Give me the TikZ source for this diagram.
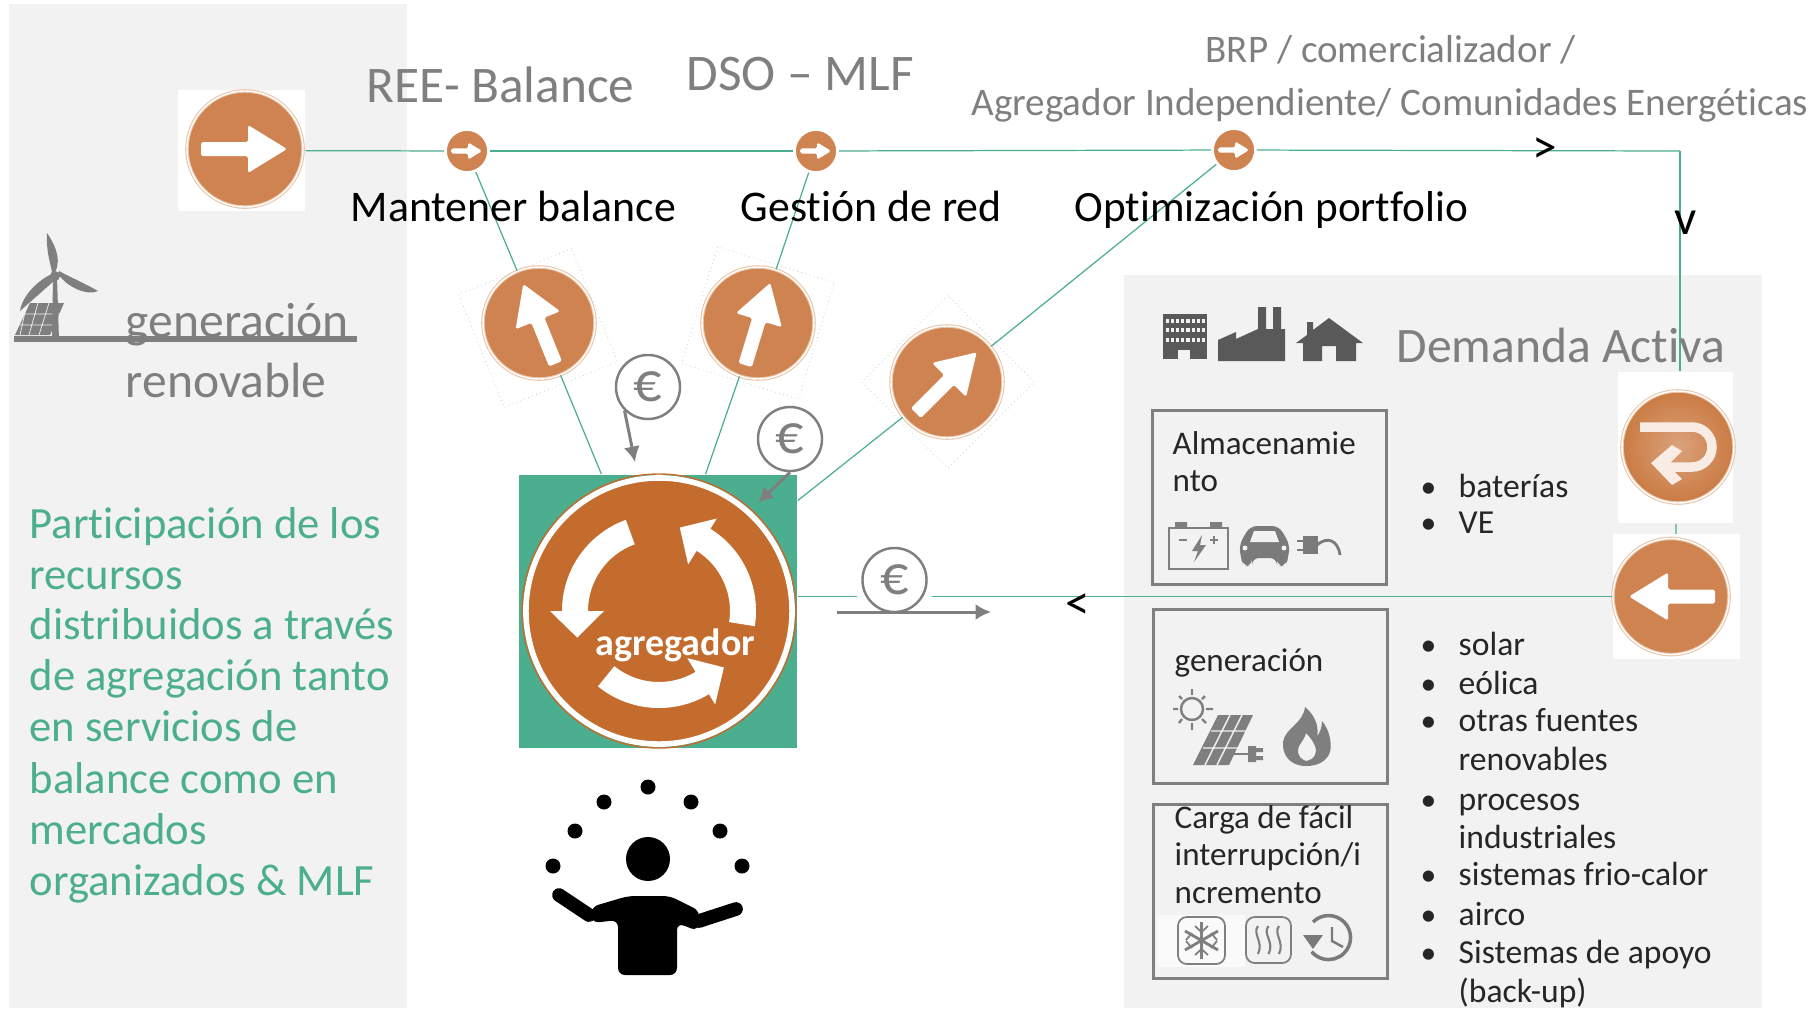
\documentclass[tikz,border=0pt]{standalone}
\usepackage{fontspec}
\setmainfont{Carlito}[Ligatures=NoCommon]
\usetikzlibrary{arrows.meta}
\definecolor{panelgrey}{HTML}{F2F2F2}
\definecolor{txtgrey}{HTML}{7F7F7F}
\definecolor{icongrey}{HTML}{595959}
\definecolor{linegreen}{HTML}{4BAE8F}
\definecolor{discorange}{HTML}{CF8350}
\definecolor{discrim}{HTML}{E9C4A8}
\definecolor{darkorange}{HTML}{C46C2E}
\definecolor{softblack}{HTML}{262626}
\newcommand{\fsz}[1]{\fontsize{#1}{#1}\selectfont}
\newcommand{\bul}{\makebox[.38cm][l]{\small•}}
\newcommand{\ringarrow}[2]{\fill[white] (#1:97) arc[start angle=#1,end angle=#2,radius=97] -- (#2:109) -- ({#2-18}:86) -- (#2:55) -- (#2:71) arc[start angle=#2,end angle=#1,radius=71] -- cycle;}
\tikzset{
	lbl/.style={anchor=base west,inner sep=0pt},
	graytitle/.style={lbl,text=txtgrey,font=\fsz{14.6}},
	graysub/.style={lbl,text=txtgrey,font=\fsz{14.1}},
	blacktitle/.style={lbl,text=black,font=\fsz{12.45}},
	greentext/.style={lbl,text=linegreen,font=\fsz{12.7}},
	boxtext/.style={lbl,text=softblack,font=\fsz{9.4}},
	listtext/.style={lbl,text=softblack,font=\fsz{9.55}},
	chevron/.style={inner sep=0pt,font=\fsz{14}},
	connector/.style={draw=linegreen,line width=.35pt},
	moneyarrow/.style={draw=txtgrey,line width=.85pt,-{Latex[length=4.4pt,width=4.6pt]}},
	eurocoin/.style={circle,draw=txtgrey,line width=.7pt,fill=white,minimum size=.64cm,inner sep=0pt,text=txtgrey,font=\fsz{16}},
	demandbox/.style={rectangle,draw=txtgrey,line width=.85pt,minimum width=2.33cm,minimum height=1.73cm,inner sep=0pt},
	whitepatch/.style={rectangle,fill=white,inner sep=0pt},
	tiltpatch/.style={whitepatch,draw=linegreen!50,densely dotted,line width=.2pt,minimum size=1.22cm},
	disc/.style={circle,fill=discorange,draw=discrim,double=white,double distance=.4pt,line width=.3pt,inner sep=0pt,minimum size=1.12cm},
	smalldisc/.style={circle,fill=discorange,draw=white,line width=.5pt,inner sep=0pt,minimum size=.42cm,outer sep=.5pt},
	arrowmark/.pic={\fill[white,rounded corners=.5] (-44,-7) -- (3,-7) -- (3,-24) -- (42,0) -- (3,24) -- (3,7) -- (-44,7) -- cycle;}
}
\begin{document}
\begin{tikzpicture}[x=.01cm,y=-.01cm]
	\useasboundingbox (0,0) rectangle (1817,1008);
	\fill[panelgrey] (9,4) rectangle (407,1008);
	\fill[panelgrey] (1124,275) rectangle (1762,1008);
	% wind turbine and panel
	\fill[txtgrey] (15,335) -- (30,303) -- (64,303) -- (50,335) -- cycle;
	\draw[panelgrey,line width=.2pt] (20,325) -- (55,325) (23,314) -- (60,314) (27,303) -- (20,335) (38,303) -- (29,335) (49,303) -- (39,335);
	\fill[txtgrey] (52,339) -- (53,277) -- (57,277) -- (59,339) -- cycle;
	\fill[txtgrey] (55,272) .. controls (63,258) and (52,240) .. (47,233) .. controls (46,250) and (50,262) .. (52,272) -- cycle;
	\fill[txtgrey] (58,274) .. controls (68,288) and (88,296) .. (98,291) .. controls (88,285) and (72,278) .. (59,271) -- cycle;
	\fill[txtgrey] (52,274) .. controls (38,280) and (22,296) .. (20,311) .. controls (30,302) and (44,290) .. (56,279) -- cycle;
	\fill[txtgrey] (55,276) circle (5);
	\draw[txtgrey,line width=1.7pt] (14,339) -- (357,339);
	% discs
	\node[whitepatch,minimum width=1.27cm,minimum height=1.21cm] (startbox) at (241.5,150.5) {};
	\node[disc,minimum size=1.16cm] (startdisc) at (245,149) {};
	\pic at (startdisc) {arrowmark};
	\node[smalldisc] (reedisc) at (467,151) {};
	\pic[scale=.36] at (reedisc) {arrowmark};
	\node[smalldisc] (dsodisc) at (816,151) {};
	\pic[scale=.36] at (dsodisc) {arrowmark};
	\node[smalldisc] (brpdisc) at (1234,150) {};
	\pic[scale=.36] at (brpdisc) {arrowmark};
	\node[tiltpatch,rotate=22] (reepatch) at (538,328) {};
	\node[disc] (reeup) at (539,323) {};
	\pic[rotate=112] at (reeup) {arrowmark};
	\node[tiltpatch,rotate=-17] (dsopatch) at (758,323) {};
	\node[disc] (dsoup) at (758,323) {};
	\pic[rotate=73] at (dsoup) {arrowmark};
	\node[tiltpatch,rotate=45] (brppatch) at (948,382) {};
	\node[disc] (brpup) at (947,382) {};
	\pic[rotate=45] at (brpup) {arrowmark};
	% agregador
	\node[rectangle,fill=linegreen,minimum width=2.78cm,minimum height=2.73cm,inner sep=0pt] (agg) at (658,611.5) {};
	\node[circle,fill=darkorange,draw=white,line width=1.6pt,minimum size=2.66cm,inner sep=0pt] (aggdisc) at (659,611) {};
	\draw[darkorange,line width=.4pt] (aggdisc) circle (137);
	\begin{scope}[shift={(659,611)}]
		\ringarrow{-110}{-180}
		\ringarrow{-231}{-301}
		\ringarrow{9}{-58}
	\end{scope}
	\node[lbl,text=white,font=\bfseries\fsz{10.8}] (agglabel) at (595,655) {agregador};
	% right hand discs
	\node[whitepatch,minimum width=1.15cm,minimum height=1.51cm] (uturnbox) at (1675.5,447.5) {};
	\node[disc,inner color=discorange!75!white,outer color=darkorange!90!white,minimum size=1.12cm] (uturn) at (1678,447) {};
	\draw[white!85!discorange,line width=2.7pt] (1640,427) -- (1692,427) arc[start angle=-90,end angle=90,radius=20] -- (1668,467);
	\fill[white!85!discorange] (1651,463) -- (1672,445) -- (1682,451) -- (1668,465) -- (1682,479) -- (1672,485) -- cycle;
	\node[whitepatch,minimum width=1.27cm,minimum height=1.24cm] (backbox) at (1676.5,596.5) {};
	\node[disc,minimum size=1.16cm] (backdisc) at (1671,596.5) {};
	\pic[rotate=180] at (backdisc) {arrowmark};
	\node[whitepatch,minimum width=.73cm,minimum height=.66cm] (eurogap) at (894.5,580) {};
	% connectors
	\coordinate (corner) at (1680,151);
	\draw[connector] (startbox) -- (reedisc);
	\draw[connector] (reedisc) -- (dsodisc);
	\draw[connector] (dsodisc) -- (brpdisc);
	\draw[connector] (brpdisc) -- (corner);
	\draw[connector] (corner) -- (corner |- uturnbox.north);
	\draw[connector] (uturnbox) -- (backbox);
	\draw[connector] (reedisc) -- (reeup);
	\draw[connector] (dsodisc) -- (dsoup);
	\draw[connector] (brpdisc) -- (brpup);
	\draw[connector] (reeup) -- (agg);
	\draw[connector] (dsoup) -- (agg);
	\draw[connector] (brpup) -- (agg);
	\draw[connector] (backbox.west) -- (backbox.west -| eurogap.east);
	\draw[connector] (backbox.west -| eurogap.west) -- (backbox.west -| agg.east);
	\node[chevron] (chevA) at (1545,151) {>};
	\node[chevron] (chevB) at (1686,223) {v};
	\node[chevron] (chevC) at (1078,607) {<};
	% money
	\node[eurocoin] (euroA) at (648,387) {€};
	\node[eurocoin] (euroB) at (790,439) {€};
	\node[eurocoin] (euroC) at (894.5,580) {€};
	\coordinate (moneyA) at (635,462);
	\coordinate (moneyB) at (758,503);
	\coordinate (moneyC) at (837,612);
	\coordinate (moneyD) at (991,612);
	\draw[moneyarrow] (euroA.south west) -- (moneyA);
	\draw[moneyarrow] (euroB.south) -- (moneyB);
	\draw[moneyarrow] (moneyC) -- (moneyD);
	% juggler
	\fill (648,859) circle (22);
	\fill (648,787) circle (7.5) (604,802) circle (7.5) (691,802) circle (7.5) (575,831) circle (7.5) (720,831) circle (7.5) (553,866) circle (7.5) (742,866) circle (7.5);
	\fill[rounded corners=2] (618,975) -- (618,920) -- (592,923) -- (591,907) -- (628,896) -- (670,896) -- (700,911) -- (698,931) -- (677,923) -- (677,975) -- cycle;
	\draw[line width=3.9pt,line cap=round,line join=round] (559,895) -- (589,915);
	\draw[line width=3.9pt,line cap=round,line join=round] (736,909) -- (699,921);
	% titles
	\node[graytitle] (ree) at (366,102) {REE- Balance};
	\node[graytitle] (dso) at (686,90) {DSO – MLF};
	\node[lbl,text=txtgrey,font=\fsz{11.1}] (brpA) at (1205,62) {BRP / comercializador /};
	\node[lbl,text=txtgrey,font=\fsz{11.1}] (brpB) at (971,115) {Agregador Independiente/ Comunidades Energéticas};
	\node[blacktitle] (mantener) at (350,221.5) {Mantener balance};
	\node[blacktitle] (gestion) at (740,221.5) {Gestión de red};
	\node[blacktitle,font=\fsz{12.3}] (portfolio) at (1074,221.5) {Optimización portfolio};
	\node[graysub] (genA) at (125,337) {generación};
	\node[graysub] (genB) at (125,397) {renovable};
	% left text
	\node[greentext] (partA) at (29,538) {Participación de los};
	\node[greentext] (partB) at (29,589) {recursos};
	\node[greentext] (partC) at (29,639) {distribuidos a través};
	\node[greentext] (partD) at (29,690) {de agregación tanto};
	\node[greentext] (partE) at (29,741) {en servicios de};
	\node[greentext] (partF) at (29,793) {balance como en};
	\node[greentext] (partG) at (29,844) {mercados};
	\node[greentext] (partH) at (29,895) {organizados \& MLF};
	% demand
	\node[graysub] (demanda) at (1396,362) {Demanda Activa};
	\fill[icongrey] (1163,314) rectangle (1207,359);
	\draw[panelgrey,line width=.9pt,dash pattern=on .9pt off .55pt] (1166,321) -- (1205,321) (1166,330) -- (1205,330) (1166,340) -- (1205,340);
	\fill[panelgrey] (1178,350) rectangle (1190,359);
	\fill[icongrey] (1218,361) -- (1218,340) -- (1236,332) -- (1236,339) -- (1258,329) -- (1258,307) -- (1266,307) -- (1266,329) -- (1273,329) -- (1273,307) -- (1281,307) -- (1281,329) -- (1285,329) -- (1285,361) -- cycle;
	\fill[icongrey] (1329,318) -- (1363,343) -- (1356,343) -- (1356,361) -- (1336,361) -- (1336,346) -- (1322,346) -- (1322,361) -- (1303,361) -- (1303,343) -- (1296,343) -- (1307,335) -- (1307,322) -- (1313,322) -- (1313,330) -- cycle;
	\node[demandbox] (boxstore) at (1269.5,497.5) {};
	\node[demandbox] (boxgen) at (1270.5,696.5) {};
	\node[demandbox] (boxload) at (1270.5,891.5) {};
	\node[boxtext] (storeA) at (1172,454) {Almacenamie};
	\node[boxtext] (storeB) at (1172,491) {nto};
	\node[boxtext] (genbox) at (1174,671) {generación};
	\node[boxtext] (loadA) at (1174,828) {Carga de fácil};
	\node[boxtext] (loadB) at (1174,865) {interrupción/i};
	\node[boxtext] (loadC) at (1174,903) {ncremento};
	% battery, car, plug
	\draw[txtgrey,line width=.8pt] (1169,528) rectangle (1228,569);
	\fill[txtgrey] (1175,522) rectangle (1187,528) (1210,522) rectangle (1222,528);
	\draw[txtgrey,line width=.7pt] (1179,540) -- (1187,540) (1210,540) -- (1218,540) (1214,536) -- (1214,544);
	\fill[txtgrey] (1202,535) -- (1192,551) -- (1198,551) -- (1194,562) -- (1206,545) -- (1200,545) -- cycle;
	\fill[icongrey!80,rounded corners=2] (1239,545) -- (1250,526) -- (1279,526) -- (1290,545) -- (1288,558) -- (1286,566) -- (1277,566) -- (1277,558) -- (1252,558) -- (1252,566) -- (1243,566) -- (1241,558) -- cycle;
	\fill[panelgrey] (1250,542) -- (1254,531) -- (1275,531) -- (1279,542) -- cycle;
	\fill[panelgrey] (1245,548) circle (2.5) (1284,548) circle (2.5);
	\fill[icongrey!80] (1303,536) rectangle (1318,554);
	\draw[icongrey!80,line width=.7pt] (1297,541) -- (1304,541) (1297,550) -- (1304,550);
	\draw[icongrey!80,line width=.8pt] (1317,545) .. controls (1327,536) and (1338,540) .. (1340,555);
	% sun, panel, flame
	\draw[txtgrey,line width=.7pt] (1192,709) circle (11);
	\draw[txtgrey,line width=.7pt] (1173,709) -- (1178,709) (1206,709) -- (1213,709) (1192,689) -- (1192,695) (1192,723) -- (1192,730) (1179,696) -- (1182,699) (1202,719) -- (1206,723) (1205,696) -- (1202,699) (1182,719) -- (1179,723);
	\fill[txtgrey] (1218,715) -- (1253,715) -- (1229,765) -- (1193,765) -- cycle;
	\draw[panelgrey,line width=.4pt] (1211,731) -- (1246,731) (1203,748) -- (1238,748) (1230,715) -- (1205,765) (1242,715) -- (1217,765);
	\draw[txtgrey,line width=.8pt] (1229,754) -- (1250,754);
	\fill[txtgrey] (1248,746) -- (1256,746) -- (1256,748) -- (1263,748) -- (1263,752) -- (1256,752) -- (1256,756) -- (1263,756) -- (1263,760) -- (1256,760) -- (1256,762) -- (1248,762) -- cycle;
	\fill[txtgrey,even odd rule] (1306,766) .. controls (1290,766) and (1282,755) .. (1283,742) .. controls (1285,728) and (1303,724) .. (1305,707) .. controls (1316,716) and (1319,728) .. (1317,736) .. controls (1320,733) and (1322,727) .. (1322,721) .. controls (1330,730) and (1332,745) .. (1330,752) .. controls (1327,761) and (1318,766) .. (1306,766) -- cycle (1306,761) .. controls (1297,758) and (1296,749) .. (1301,743) .. controls (1303,740) and (1305,737) .. (1306,733) .. controls (1314,741) and (1318,750) .. (1315,755) .. controls (1313,759) and (1310,760) .. (1306,761) -- cycle;
	% snow, heat, clock
	\fill[white!60!panelgrey] (1157,915) rectangle (1245,967);
	\draw[txtgrey,line width=.5pt,rounded corners=2.5] (1178,917) rectangle (1225,964);
	\draw[txtgrey,line width=.8pt] (1201.5,922) -- (1201.5,959) (1185,931) -- (1218,950) (1185,950) -- (1218,931);
	\draw[txtgrey,line width=.5pt] (1195,926) -- (1201.5,932) -- (1208,926) (1195,955) -- (1201.5,949) -- (1208,955) (1186,940) -- (1192,933) (1186,941) -- (1192,948) (1217,940) -- (1211,933) (1217,941) -- (1211,948);
	\draw[txtgrey,line width=.5pt,rounded corners=2.5] (1246,917) rectangle (1291,963);
	\draw[txtgrey,line width=.6pt] (1258,926) .. controls (1252,934) and (1264,942) .. (1258,954) (1268.5,926) .. controls (1262,934) and (1275,942) .. (1268.5,954) (1279,926) .. controls (1273,934) and (1285,942) .. (1279,954);
	\draw[icongrey!80,line width=1pt] (1313,922) arc[start angle=-135,end angle=140,radius=22];
	\draw[icongrey!80,line width=.7pt] (1332,927) -- (1332,941) -- (1343,947);
	\fill[icongrey!80] (1303,935) -- (1323,935) -- (1313,949) -- cycle;
	% lists
	\node[listtext] (itemA) at (1420,497) {\bul baterías};
	\node[listtext] (itemB) at (1420,533) {\bul VE};
	\node[listtext] (itemC) at (1420,655) {\bul solar};
	\node[listtext] (itemD) at (1420,694) {\bul eólica};
	\node[listtext] (itemE) at (1420,731) {\bul otras fuentes};
	\node[listtext] (itemF) at (1458,770) {renovables};
	\node[listtext] (itemG) at (1420,810) {\bul procesos};
	\node[listtext] (itemH) at (1458,848) {industriales};
	\node[listtext] (itemI) at (1420,885) {\bul sistemas frio-calor};
	\node[listtext] (itemJ) at (1420,925) {\bul airco};
	\node[listtext] (itemK) at (1420,963) {\bul Sistemas de apoyo};
	\node[listtext] (itemL) at (1458,1002) {(back-up)};
\end{tikzpicture}
\end{document}
